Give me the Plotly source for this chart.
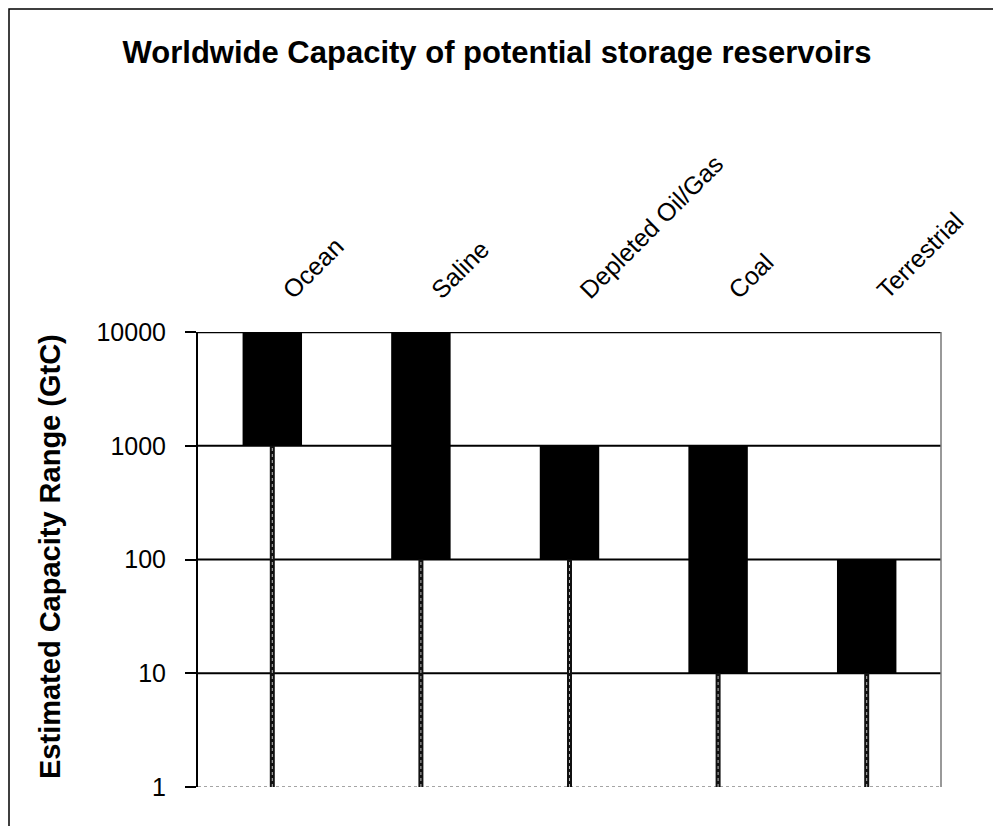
import plotly.graph_objects as go

categories = ["Ocean", "Saline", "Depleted Oil/Gas", "Coal", "Terrestrial"]
low_values = [1000, 100, 100, 10, 10]
high_values = [10000, 10000, 1000, 1000, 100]
y_ticks = [1, 10, 100, 1000, 10000]
y_tick_labels = ["1", "10", "100", "1000", "10000"]

FONT = "Liberation Sans, Arial, sans-serif"

# plot area geometry (figure pixels)
L, R, T, B = 190, 68, 324, 47
W, H = 1001, 826
PW, PH = W - L - R, H - T - B

fig = go.Figure()

# drop lines from the axis floor to the bottom of each range bar
line_x, line_y = [], []
for c, lo in zip(categories, low_values):
    line_x += [c, c, None]
    line_y += [y_ticks[0], lo, None]

fig.add_trace(go.Scatter(x=line_x, y=line_y, mode="lines",
                         line=dict(color="#111111", width=5),
                         hoverinfo="skip", showlegend=False))
fig.add_trace(go.Scatter(x=line_x, y=line_y, mode="lines",
                         line=dict(color="#bbbbbb", width=1, dash="dot"),
                         hoverinfo="skip", showlegend=False))

fig.add_trace(go.Bar(
    x=categories,
    y=[h - l for h, l in zip(high_values, low_values)],
    base=low_values,
    width=0.4,
    marker=dict(color="#000000", line=dict(width=0)),
    showlegend=False,
))

shapes = []
for v in y_ticks:
    if v == y_ticks[0]:
        shapes.append(dict(type="line", xref="paper", yref="y", x0=0, x1=1, y0=v, y1=v,
                           line=dict(color="#888888", width=1.5, dash="dot"), layer="below"))
    else:
        shapes.append(dict(type="line", xref="paper", yref="y", x0=0, x1=1, y0=v, y1=v,
                           line=dict(color="#000000", width=2.5 if v == y_ticks[-1] else 2),
                           layer="below"))
shapes.append(dict(type="line", xref="paper", yref="paper", x0=1, x1=1, y0=0, y1=1,
                   line=dict(color="#777777", width=1.5), layer="below"))
shapes.append(dict(type="rect", xref="paper", yref="paper",
                   x0=(1 - L) / PW, x1=(992 - L) / PW, y0=-0.2, y1=(PH + T - 1) / PH,
                   line=dict(color="#000000", width=1.5), fillcolor="rgba(0,0,0,0)"))

fig.update_layout(
    width=W, height=H,
    margin=dict(l=L, r=R, t=T, b=B),
    paper_bgcolor="white", plot_bgcolor="white",
    font=dict(family=FONT, color="#000000"),
    shapes=shapes,
    title=dict(text="<b>Worldwide Capacity of potential storage reservoirs</b>",
               x=489 / W, xanchor="center", y=1 - 44 / H, yanchor="middle",
               font=dict(size=31, family=FONT, color="#000000")),
    xaxis=dict(type="category", side="top", tickangle=-45, range=[-0.5, 4.5],
               showline=False, showgrid=False, ticks="", zeroline=False,
               ticklabelstandoff=22, ticklabelshift=12,
               tickfont=dict(size=25, family=FONT, color="#000000")),
    yaxis=dict(type="log", range=[0, 4], tickvals=y_ticks, ticktext=y_tick_labels,
               showgrid=False, zeroline=False, showline=True, linecolor="#000000",
               linewidth=2, ticks="outside", ticklen=11, tickwidth=2, tickcolor="#000000",
               ticklabelstandoff=14,
               tickfont=dict(size=25, family=FONT, color="#000000")),
    annotations=[dict(text="<b>Estimated Capacity Range (GtC)</b>", textangle=-90,
                      xref="paper", yref="paper", x=(42 - L) / PW, y=(H - B - 549) / PH,
                      xanchor="center", yanchor="middle", showarrow=False,
                      font=dict(size=29, family=FONT, color="#000000"))],
)

fig.write_html("out.html")
